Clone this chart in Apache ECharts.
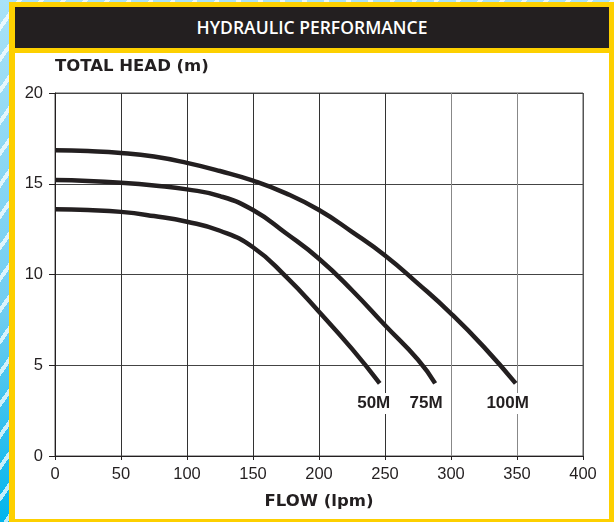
<!DOCTYPE html>
<html>
<head>
<meta charset="utf-8">
<title>Hydraulic performance</title>
<script src="https://cdn.jsdelivr.net/npm/echarts@6/dist/echarts.min.js"></script>
<style>
  html, body { margin: 0; padding: 0; }
  body {
    width: 614px; height: 522px; position: relative; overflow: hidden;
    background:
      repeating-linear-gradient(125deg, rgba(255,255,255,0) 0 14px, rgba(255,255,255,0.75) 14px 18px),
      linear-gradient(180deg, #a9e2f7 0%, #6fcdf1 60%, #00b5ec 100%);
  }
  .frame { position: absolute; left: 9px; top: 2px; width: 605px; height: 520px; background: #fdd000; }
  .head {
    position: absolute; left: 15px; top: 7px; width: 594px; height: 41px; background: #231f20;
    color: #fff; font: 600 17.5px "Open Sans", sans-serif; text-align: center; line-height: 41px;
  }
  .panel { position: absolute; left: 15px; top: 53px; width: 594px; height: 466px; background: #fff; }
  #chart { position: absolute; left: 0; top: 0; width: 614px; height: 522px; }
</style>
</head>
<body>
<div class="frame"></div>
<div class="head">HYDRAULIC PERFORMANCE</div>
<div class="panel"></div>
<div id="chart"></div>
<script>
// curves: flow (lpm) -> total head (m)
var flow50 = [0, 25, 50, 75, 100, 125, 150, 175, 200, 225, 246];
var head50 = [13.6, 13.55, 13.45, 13.22, 12.91, 12.41, 11.5, 9.88, 7.95, 5.9, 4.0];

var flow75 = [0, 25, 50, 75, 100, 125, 150, 175, 200, 225, 250, 275, 288];
var head75 = [15.2, 15.15, 15.05, 14.9, 14.69, 14.32, 13.55, 12.27, 10.87, 9.13, 7.2, 5.3, 4.0];

var flow100 = [0, 25, 50, 75, 100, 125, 150, 175, 200, 225, 250, 275, 300, 325, 349];
var head100 = [16.85, 16.8, 16.7, 16.5, 16.15, 15.7, 15.17, 14.47, 13.55, 12.35, 11.05, 9.5, 7.85, 6.0, 4.0];

var seriesNames = ["50M", "75M", "100M"];

var ink = "#231f20";
var boldFont = "DejaVu Sans";

function pairs(xs, ys) {
  return xs.map(function (x, i) { return [x, ys[i]]; });
}

function curve(name, xs, ys, dx) {
  return {
    name: name,
    type: "line",
    data: pairs(xs, ys),
    smooth: 0.5,
    symbol: "none",
    lineStyle: { color: ink, width: 4.5, cap: "butt" },
    endLabel: {
      show: true,
      formatter: "{a}",
      offset: [dx, 20],
      align: "center",
      verticalAlign: "middle",
      distance: 0,
      color: ink,
      fontFamily: "Liberation Sans, Arial, sans-serif",
      fontWeight: "bold",
      fontSize: 17,
      backgroundColor: "#fff",
      padding: [2, 1]
    },
    animation: false,
    z: 3
  };
}

var chart = echarts.init(document.getElementById("chart"), null, { renderer: "canvas" });
chart.setOption({
  backgroundColor: "transparent",
  animation: false,
  grid: {
    left: 55, top: 93, width: 528, height: 363,
    show: true, borderColor: "#555", borderWidth: 1, backgroundColor: "transparent"
  },
  xAxis: {
    type: "value",
    min: 0, max: 400, interval: 50,
    name: "FLOW (lpm)",
    nameLocation: "middle",
    nameGap: 37,
    nameTextStyle: { color: ink, fontFamily: boldFont, fontWeight: "bold", fontSize: 16.5 },
    axisLine: { show: true, lineStyle: { color: ink, width: 1 } },
    axisTick: { show: true, length: 4, lineStyle: { color: ink } },
    axisLabel: { color: ink, fontFamily: "Liberation Sans, Arial", fontSize: 16.5, margin: 10 },
    splitLine: {
      show: true,
      lineStyle: { color: ["#333", "#333", "#333", "#333", "#333", "#333", "#888", "#888", "#555"], width: 1 }
    }
  },
  yAxis: {
    type: "value",
    min: 0, max: 20, interval: 5,
    name: "TOTAL HEAD (m)",
    nameLocation: "end",
    nameGap: 18,
    nameTextStyle: { color: ink, fontFamily: boldFont, fontWeight: "bold", fontSize: 16.5, align: "left" },
    axisLine: { show: true, lineStyle: { color: ink, width: 1 } },
    axisTick: { show: true, length: 6, lineStyle: { color: ink } },
    axisLabel: { color: ink, fontFamily: "Liberation Sans, Arial", fontSize: 16.5, margin: 12 },
    splitLine: { show: true, lineStyle: { color: "#444", width: 1 } }
  },
  series: [
    curve(seriesNames[0], flow50, head50, -6),
    curve(seriesNames[1], flow75, head75, -9),
    curve(seriesNames[2], flow100, head100, -8)
  ]
});
</script>
</body>
</html>
